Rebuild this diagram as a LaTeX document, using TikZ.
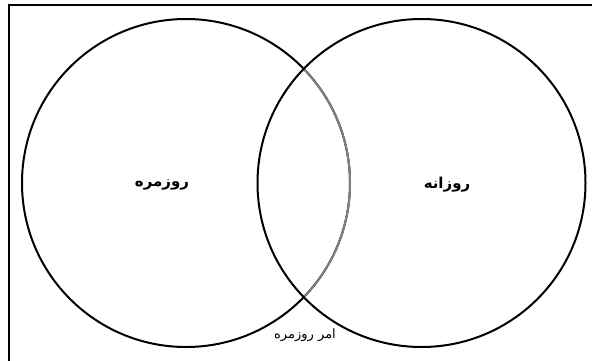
\documentclass[tikz,border=0pt]{standalone}
\usepackage{fontspec}
\newfontfamily\arabicfont[Script=Arabic]{DejaVu Sans}
\TeXXeTstate=1
\tikzset{
  venn/.style={line width=2pt, draw=black},
  bigtxt/.style={font=\arabicfont\bfseries\fontsize{15}{17}\selectfont, inner sep=0pt},
  smalltxt/.style={font=\arabicfont\fontsize{13}{15}\selectfont, inner sep=0pt}
}
\begin{document}
\begin{tikzpicture}[x=1pt,y=-1pt]
\useasboundingbox (0,0) rectangle (592,360);
\draw[line width=1.8pt] (9,362) -- (9,5) -- (594,5);
\coordinate (cl) at (186,183);
\coordinate (cr) at (421.5,183);
\draw[venn] (cl) circle (164);
\begin{scope}
  \clip (cr) circle (164);
  \draw[line width=2pt, draw=gray] (cl) circle (164);
\end{scope}
\draw[venn] (cr) circle (164);
\node[bigtxt] (l) at (162,185) {\beginR روزمره\endR};
\node[bigtxt] (r) at (447,185) {\beginR روزانه\endR};
\node[smalltxt] (m) at (305,335) {\beginR امر روزمره\endR};
\end{tikzpicture}
\end{document}
